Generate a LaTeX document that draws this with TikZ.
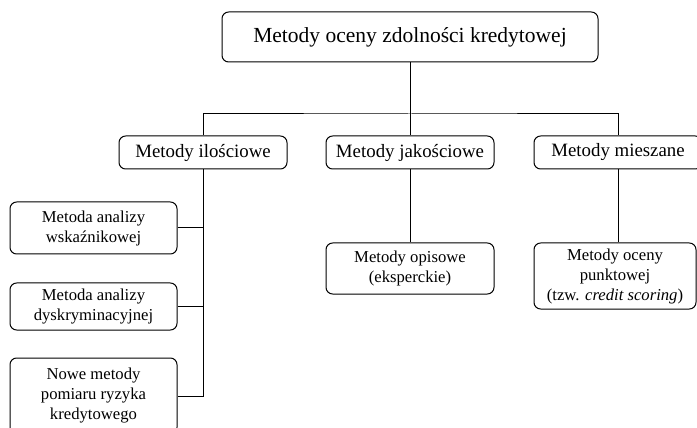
\documentclass[tikz,border=0pt]{standalone}
\usepackage{fontspec}
\setmainfont{Liberation Serif}
\usetikzlibrary{calc}

\begin{document}
\begin{tikzpicture}[x=0.6pt,y=-0.6pt,line width=0.6pt,
    box/.style={draw,rounded corners=4pt,fill=white,align=center,inner sep=0pt},
    main box/.style={box,minimum width=376*0.6pt,minimum height=50*0.6pt,font=\fontsize{12.9}{15}\selectfont},
    group box/.style={box,minimum width=168*0.6pt,minimum height=33*0.6pt,font=\fontsize{11.3}{13.5}\selectfont},
    leaf box/.style={box,minimum width=167*0.6pt,font=\fontsize{10}{12}\selectfont}]
      \clip (0,0) rectangle (697,428);
      \node[main box] at (410,37) (main) {Metody oceny zdolności kredytowej};
      \node[group box] at (203,152.5) (ilosc) {Metody ilościowe};
      \node[group box] at (410,152.5) (jakosc) {Metody jakościowe};
      \node[group box] at (618,152.5) (miesz) {Metody mieszane};
      \node[leaf box,minimum height=52*0.6pt] at (93.5,228) (wsk) {Metoda analizy\\wskaźnikowej};
      \node[leaf box,minimum height=47*0.6pt] at (93.5,306.5) (dysk) {Metoda analizy\\dyskryminacyjnej};
      \node[leaf box,minimum height=76*0.6pt] at (93.5,396) (nowe) {Nowe metody\\pomiaru ryzyka\\kredytowego};
      \node[leaf box,minimum height=51*0.6pt,minimum width=168*0.6pt] at (410,268.5) (opis) {Metody opisowe\\(eksperckie)};
      \node[leaf box,minimum height=66*0.6pt,minimum width=162*0.6pt] at (615,276) (punkt) {Metody oceny\\punktowej\\(tzw. \textit{credit scoring})};
      \coordinate (bus) at (410,114);
      % connectors
      \draw (main.south) -- (bus);
      \draw (ilosc.north) |- (bus) -| (miesz.north);
      \draw (bus) -- (jakosc.north);
      \draw (jakosc.south) -- (opis.north);
      \draw (miesz.south) -- (miesz.south |- punkt.north);
      \draw (ilosc.south) -- (ilosc.south |- nowe.east) -- (nowe.east);
      \draw (wsk.east) -- (wsk.east -| ilosc.south);
      \draw (dysk.east) -- (dysk.east -| ilosc.south);
    \end{tikzpicture}
\end{document}
